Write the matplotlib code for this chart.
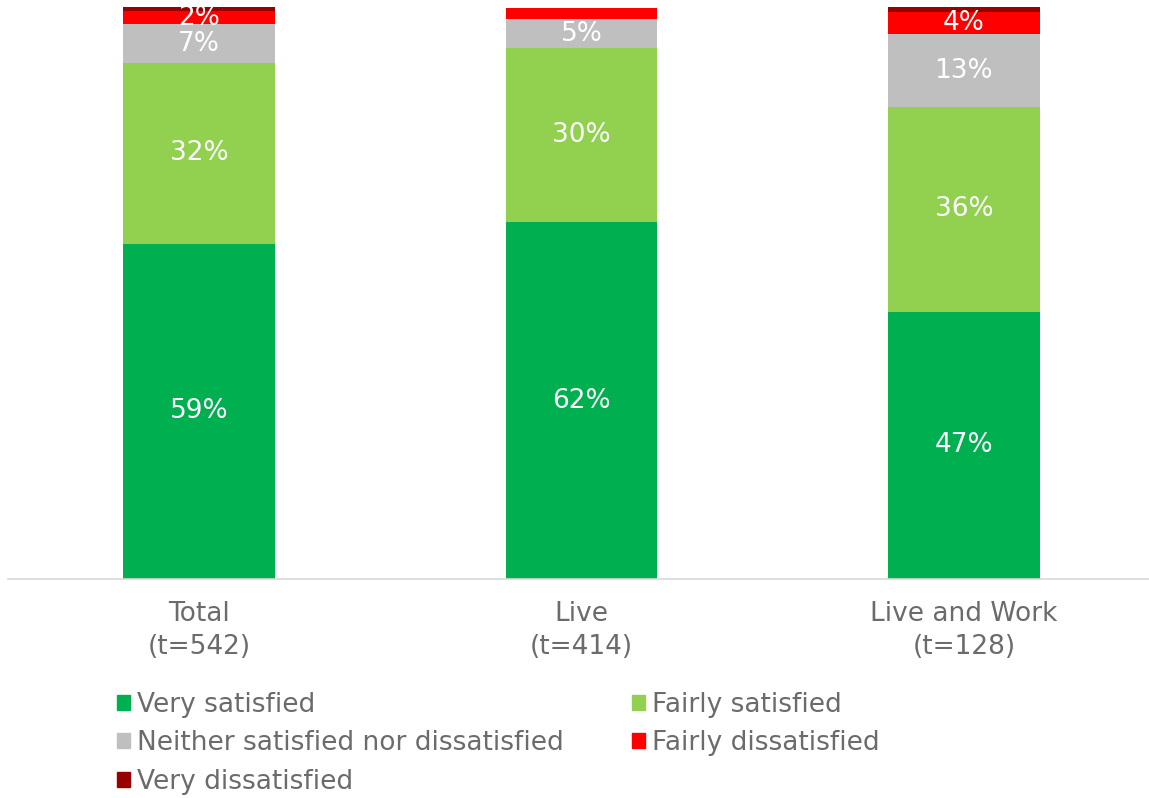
import matplotlib
matplotlib.use("Agg")
import matplotlib.pyplot as plt
from matplotlib.patches import Patch

categories = ["Total\n(t=542)", "Live\n(t=414)", "Live and Work\n(t=128)"]
series_names = ["Very satisfied", "Fairly satisfied", "Neither satisfied nor dissatisfied",
                "Fairly dissatisfied", "Very dissatisfied"]
very_satisfied = [58.6, 62.4, 46.7]
fairly_satisfied = [31.6, 30.4, 35.8]
neither = [6.8, 5.1, 12.7]
fairly_dissatisfied = [2.3, 1.9, 3.9]
very_dissatisfied = [0.7, 0.0, 0.9]
colors = ["#00B050", "#92D050", "#BFBFBF", "#FF0000", "#990000"]
text_color = "#6B6B6B"

series = [very_satisfied, fairly_satisfied, neither, fairly_dissatisfied, very_dissatisfied]

plt.rcParams['font.family'] = ['DejaVu Sans']
fig = plt.figure(figsize=(11.49, 7.98), dpi=100)
ax = fig.add_axes([8/1149, (798-579)/798, 1 - 8/1149, 572/798])

x = list(range(len(categories)))
bottom = [0.0]*len(categories)
for name, vals, c in zip(series_names, series, colors):
    ax.bar(x, vals, width=0.397, bottom=bottom, color=c, label=name, linewidth=0)
    for xi, v, b in zip(x, vals, bottom):
        if v >= 2.0:
            ax.text(xi, b + v/2, f"{round(v):.0f}%", ha="center", va="center",
                    color="white", fontsize=19)
    bottom = [b + v for b, v in zip(bottom, vals)]

ax.set_xlim(-0.5, 2.484)
ax.set_ylim(0, 100)
ax.set_yticks([])
ax.set_xticks(x)
ax.set_xticklabels(categories, fontsize=19, color=text_color, linespacing=1.35)
ax.tick_params(axis="x", length=0, pad=16)
for s in ["top", "right", "left"]:
    ax.spines[s].set_visible(False)
ax.spines["bottom"].set_color("#D9D9D9")
ax.spines["bottom"].set_linewidth(1.2)

handles = [Patch(color=c) for c in colors]
order = [0, 2, 4, 1, 3]
leg = fig.legend([handles[i] for i in order], [series_names[i] for i in order],
                 ncol=2, loc="upper left", bbox_to_anchor=(117/1149, 1 - 691.5/798),
                 frameon=False, fontsize=19, handlelength=0.49, handleheight=0.49,
                 handletextpad=0.27, columnspacing=2.58, labelspacing=0.48,
                 borderaxespad=0, borderpad=0)
for t in leg.get_texts():
    t.set_color(text_color)

fig.savefig("out.png", dpi=100)
